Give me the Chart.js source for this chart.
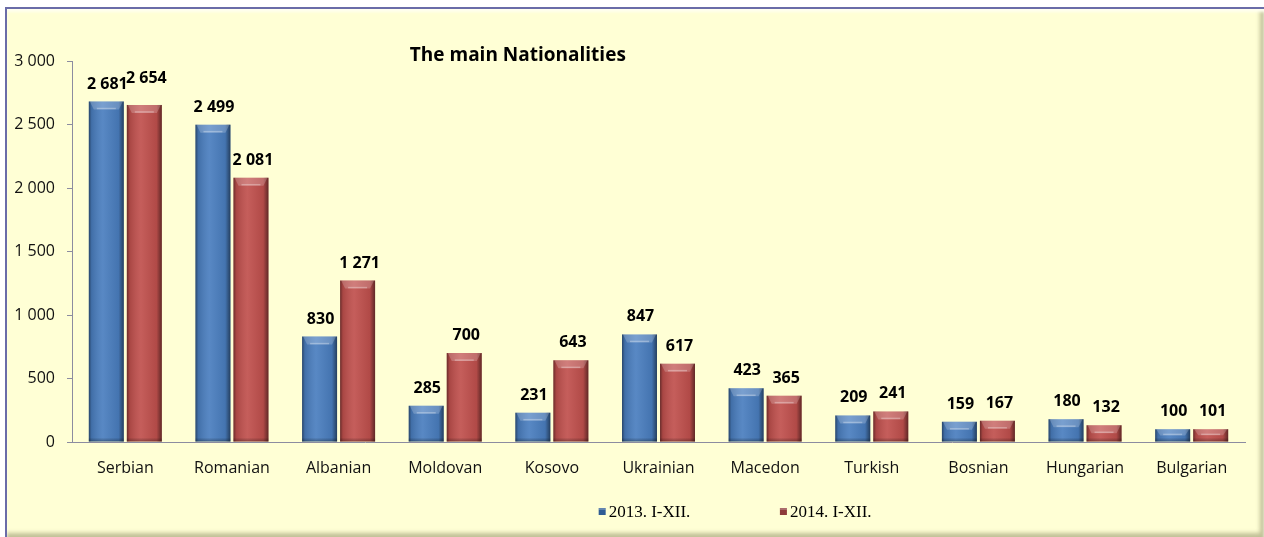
<!DOCTYPE html>
<html>
<head>
<meta charset="utf-8">
<script src="https://cdn.jsdelivr.net/npm/chart.js@4.4.1/dist/chart.umd.min.js"></script>
<style>
  html, body { margin: 0; padding: 0; background: #fff; }
  #wrap { position: relative; width: 1264px; height: 537px; overflow: hidden; }
  #panel {
    position: absolute; left: 5px; top: 7px; width: 1257px; height: 528px;
    border-left: 2px solid #6A6CA8; border-top: 2px solid #6A6CA8;
    background: #FFFFD5;
    box-shadow: inset 0 3px 3px #fffff0, inset -5px -5px 4px -1px rgba(140,140,100,0.55);
  }
  #chart { position: absolute; left: 0; top: 0; }
</style>
</head>
<body>
<div id="wrap">
  <div id="panel"></div>
  <canvas id="chart" width="1264" height="537"></canvas>
</div>
<script>
const nationalities = ["Serbian", "Romanian", "Albanian", "Moldovan", "Kosovo", "Ukrainian",
  "Macedon", "Turkish", "Bosnian", "Hungarian", "Bulgarian"];
const values2013 = [2681, 2499, 830, 285, 231, 847, 423, 209, 159, 180, 100];
const values2014 = [2654, 2081, 1271, 700, 643, 617, 365, 241, 167, 132, 101];
const seriesNames = ["2013. I-XII.", "2014. I-XII."];
const yTicks = [0, 500, 1000, 1500, 2000, 2500, 3000];
const chartTitle = "The main Nationalities";

const fmt = v => String(v).replace(/\B(?=(\d{3})+(?!\d))/g, " ");

const legendColors = ["#2F5C94", "#8E3B3A"];

// cylinder-ish shading over each bar
const barShading = {
  id: "barShading",
  afterDatasetsDraw(chart) {
    const ctx = chart.ctx;
    chart.data.datasets.forEach((ds, i) => {
      chart.getDatasetMeta(i).data.forEach(el => {
        const w = el.width, l = el.x - w / 2, r = el.x + w / 2;
        const top = Math.min(el.y, el.base), bot = Math.max(el.y, el.base);
        const h = bot - top;
        ctx.save();
        const g = ctx.createLinearGradient(l, 0, r, 0);
        g.addColorStop(0, "rgba(0,0,0,0.45)");
        g.addColorStop(0.08, "rgba(0,0,0,0.12)");
        g.addColorStop(0.4, "rgba(255,255,255,0.08)");
        g.addColorStop(0.85, "rgba(0,0,0,0.08)");
        g.addColorStop(1, "rgba(0,0,0,0.5)");
        ctx.fillStyle = g;
        ctx.fillRect(l, top, w, h);
        // bevel on the top face
        const bh = Math.min(8, h / 2), bw = 5;
        ctx.beginPath();
        ctx.moveTo(l + 1, top);
        ctx.lineTo(r - 1, top);
        ctx.lineTo(r - bw, top + bh);
        ctx.lineTo(l + bw, top + bh);
        ctx.closePath();
        ctx.fillStyle = "rgba(255,255,255,0.2)";
        ctx.fill();
        ctx.strokeStyle = "rgba(255,255,255,0.3)";
        ctx.lineWidth = 1.5;
        ctx.beginPath();
        ctx.moveTo(l + bw + 3, top + bh - 1);
        ctx.lineTo(r - bw - 3, top + bh - 1);
        ctx.stroke();
        // darker foot
        const fg = ctx.createLinearGradient(0, bot - 4, 0, bot);
        fg.addColorStop(0, "rgba(0,0,0,0)");
        fg.addColorStop(1, "rgba(0,0,0,0.3)");
        ctx.fillStyle = fg;
        ctx.fillRect(l, bot - 4, w, 4);
        ctx.restore();
      });
    });
  }
};

// value labels above the bars, nudged up when two neighbours collide
const valueLabels = {
  id: "valueLabels",
  afterDatasetsDraw(chart) {
    const ctx = chart.ctx;
    ctx.save();
    ctx.font = "bold 16px 'Open Sans'";
    ctx.fillStyle = "#000";
    ctx.textAlign = "center";
    ctx.textBaseline = "alphabetic";
    const m0 = chart.getDatasetMeta(0).data, m1 = chart.getDatasetMeta(1).data;
    m0.forEach((el0, k) => {
      const el1 = m1[k];
      const t0 = fmt(chart.data.datasets[0].data[k]);
      const t1 = fmt(chart.data.datasets[1].data[k]);
      const y0 = el0.y - 13;
      let y1 = el1.y - 13;
      const w0 = ctx.measureText(t0).width, w1 = ctx.measureText(t1).width;
      const overlapX = (el0.x + w0 / 2) > (el1.x - w1 / 2);
      if (overlapX && Math.abs(y1 - y0) < 12) y1 = Math.min(y1, y0 - 6);
      ctx.fillText(t0, el0.x + 1, y0);
      ctx.fillText(t1, el1.x + 2, y1);
    });
    ctx.restore();
  }
};

const titleAndLegend = {
  id: "titleAndLegend",
  afterDraw(chart) {
    const ctx = chart.ctx, a = chart.chartArea;
    const cw = a.right - a.left;
    ctx.save();
    ctx.fillStyle = "#000";
    ctx.font = "bold 19px 'Open Sans'";
    ctx.textAlign = "left";
    ctx.textBaseline = "alphabetic";
    ctx.fillText(chartTitle, a.left + cw * 0.288, a.top);

    ctx.font = "17px 'Liberation Serif'";
    const ly = chart.height - 20;
    const startX = [a.left + cw * 0.449, a.left + cw * 0.6035];
    chart.data.datasets.forEach((ds, i) => {
      const x = startX[i];
      ctx.fillStyle = legendColors[i];
      ctx.fillRect(x, ly - 9, 7, 7);
      ctx.fillStyle = "rgba(255,255,255,0.25)";
      ctx.fillRect(x, ly - 9, 7, 2);
      ctx.fillStyle = "#000";
      ctx.fillText(ds.label, x + 10, ly);
    });
    ctx.restore();
  }
};

new Chart(document.getElementById("chart"), {
  type: "bar",
  data: {
    labels: nationalities,
    datasets: [
      { label: seriesNames[0], data: values2013, backgroundColor: "#4A7EBF" },
      { label: seriesNames[1], data: values2014, backgroundColor: "#C0504D" }
    ]
  },
  options: {
    responsive: false,
    animation: false,
    layout: { padding: { top: 61, right: 19, left: 0, bottom: 0 } },
    categoryPercentage: 0.713,
    barPercentage: 0.92,
    plugins: {
      legend: { display: false },
      title: { display: false },
      tooltip: { enabled: false }
    },
    scales: {
      x: {
        grid: { display: true, drawOnChartArea: false, drawTicks: false },
        border: { display: true, color: "#8C8CA0", width: 1 },
        ticks: { color: "#111", padding: 17, font: { family: "'Open Sans'", size: 16 } },
        afterFit(scale) { scale.height = 95; }
      },
      y: {
        min: 0,
        max: yTicks[yTicks.length - 1],
        afterBuildTicks(scale) { scale.ticks = yTicks.map(v => ({ value: v })); },
        grid: { display: true, drawOnChartArea: false, drawTicks: true, tickLength: 5, color: "#8C8CA0" },
        border: { display: true, color: "#8C8CA0", width: 1 },
        ticks: {
          color: "#111", padding: 12, font: { family: "'Open Sans'", size: 16 },
          callback: v => fmt(v)
        },
        afterFit(scale) { scale.width = 72; }
      }
    }
  },
  plugins: [barShading, valueLabels, titleAndLegend]
});
</script>
</body>
</html>
